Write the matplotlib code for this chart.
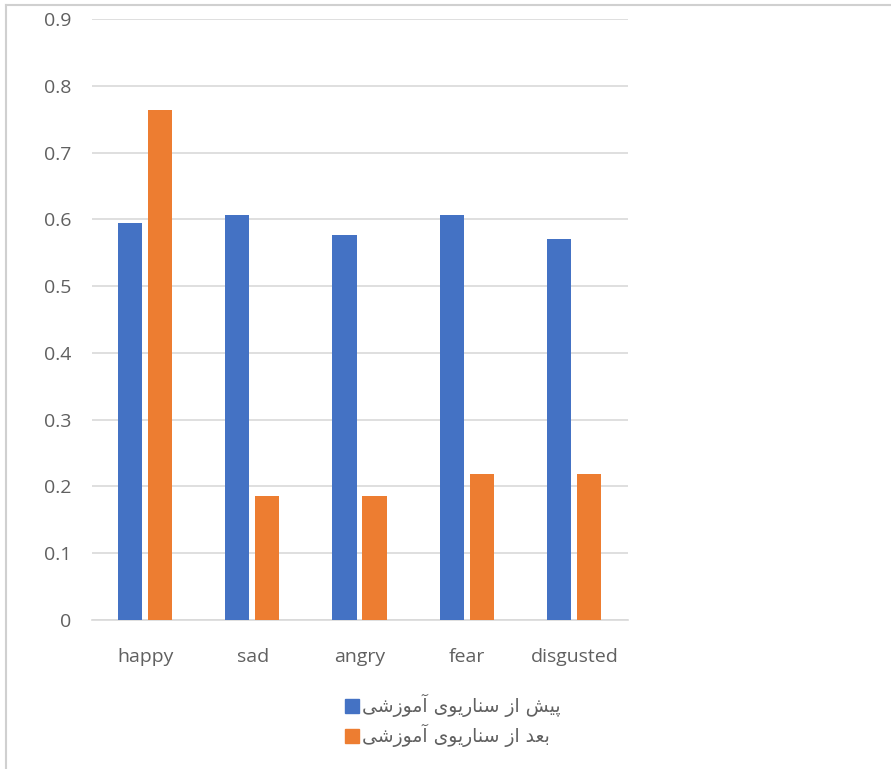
import numpy as np
import matplotlib.pyplot as plt
from matplotlib.lines import Line2D

# Data
categories = ['happy', 'sad', 'angry', 'fear', 'disgusted']
before = [0.595, 0.606, 0.577, 0.606, 0.571]
after = [0.764, 0.186, 0.186, 0.218, 0.218]
yticks = [0, 0.1, 0.2, 0.3, 0.4, 0.5, 0.6, 0.7, 0.8, 0.9]
ytick_labels = ['0', '0.1', '0.2', '0.3', '0.4', '0.5', '0.6', '0.7', '0.8', '0.9']

# Persian legend labels, pre-shaped in visual (left-to-right) order
# "پیش از سناریوی آموزشی" / "بعد از سناریوی آموزشی"
w_amoozeshi = '\uFBFD\uFEB7\uFEAF\uFEEE\uFEE3\uFE81'
w_senarioye = '\uFBFC\uFEEE\uFBFE\uFEAD\uFE8E\uFEE8\uFEB3'
w_az = '\uFEAF\uFE8D'
w_pish = '\uFEB6\uFBFF\uFB58'
w_baad = '\uFEAA\uFECC\uFE91'
label_before = ' '.join([w_amoozeshi, w_senarioye, w_az, w_pish])
label_after = ' '.join([w_amoozeshi, w_senarioye, w_az, w_baad])

blue = '#4472C4'
orange = '#ED7D31'
text_color = '#606060'

plt.rcParams['font.family'] = ['Open Sans', 'DejaVu Sans']

fig = plt.figure(figsize=(8.91, 7.69), dpi=100)
ax = fig.add_axes([0.1033, 0.1938, 0.6015, 0.7815])

x = np.arange(len(categories))
w = 0.225
ax.bar(x - 0.145, before, width=w, color=blue, zorder=3)
ax.bar(x + 0.135, after, width=w, color=orange, zorder=3)

ax.set_xlim(-0.5, len(categories) - 0.5)
ax.set_ylim(0, 0.9)
ax.set_yticks(yticks)
ax.set_yticklabels(ytick_labels)
ax.set_xticks(x)
ax.set_xticklabels(categories)

ax.grid(axis='y', color='#d9d9d9', linewidth=1.2, zorder=0)
for s in ['top', 'right', 'left']:
    ax.spines[s].set_visible(False)
ax.spines['bottom'].set_color('#d9d9d9')
ax.spines['bottom'].set_linewidth(1.2)
ax.tick_params(axis='both', length=0, labelsize=14, colors=text_color)
ax.tick_params(axis='y', pad=15)
ax.tick_params(axis='x', pad=20)

# legend
handles = [Line2D([], [], marker='s', linestyle='none', markersize=10, color=blue),
           Line2D([], [], marker='s', linestyle='none', markersize=10, color=orange)]
leg = fig.legend(handles, [label_before, label_after], loc='center',
                 bbox_to_anchor=(0.508, 0.063), frameon=False,
                 prop={'family': 'DejaVu Sans', 'size': 13.5},
                 handletextpad=0.15, labelspacing=0.35, handlelength=0.8)
for t in leg.get_texts():
    t.set_color(text_color)

# chart frame border
fig.add_artist(Line2D([0.007, 0.007], [0.0, 0.994], color='#d0d0d0', linewidth=1.5))
fig.add_artist(Line2D([0.007, 1.0], [0.994, 0.994], color='#d0d0d0', linewidth=1.5))

plt.savefig('out.png', dpi=100)
